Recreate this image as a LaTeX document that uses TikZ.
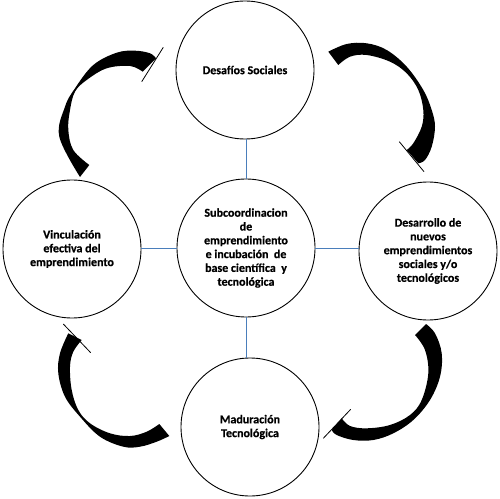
\documentclass[tikz,border=0pt]{standalone}
\usepackage{fontspec}
\setmainfont{Carlito}[BoldFeatures={FakeBold=0.6}]
\begin{document}
\begin{tikzpicture}[x=1bp,y=-1bp,
  bubble/.style={circle,draw=black,line width=0.9bp,minimum size=138bp,inner sep=0pt,
    align=center,font=\bfseries\fontsize{12bp}{13.8bp}\selectfont},
  conn/.style={draw={rgb,255:red,74;green,126;blue,187},line width=1bp},
  crescent/.style={fill=black},
  tick/.style={draw=black,line width=0.8bp}]
\useasboundingbox (0,0) rectangle (500,499);
\node[bubble] (top) at (245,70) {Desafíos Sociales};
\node[bubble] (left) at (72,249) {Vinculación\\efectiva del\\emprendimiento};
\node[bubble] (center) at (246,248) {Subcoordinacion\\de\\emprendimiento\\e incubación\ \ de\\base científica\ \ y\\tecnológica};
\node[bubble] (right) at (428,251) {Desarrollo de\\nuevos\\emprendimientos\\sociales y/o\\tecnológicos};
\node[bubble] (bottom) at (250,427) {Maduración\\Tecnológica};
\draw[conn] (center.north) -- (center.north |- top.south);
\draw[conn] (center.south) -- (center.south |- bottom.north);
\draw[conn] (center.west) -- (center.west -| left.east);
\draw[conn] (center.east) -- (center.east -| right.west);
% top-left curved arrow
\fill[crescent] plot[smooth,tension=0.6] coordinates {(80,177) (59.3,136.7) (65,106.7) (75,88.3) (93.3,65) (116.7,52.7) (135,50.7) (150,53.3) (156,58.3)}
  -- plot[smooth,tension=0.6] coordinates {(142.7,71.7) (130,66) (106.7,68.3) (86.7,80) (75,91.7) (70,110) (68.3,130) (73.3,150) (89.3,165)} -- cycle;
\draw[tick] (141.7,81.7) -- (163.3,47.3);
% top-right curved arrow
\fill[crescent] plot[smooth,tension=0.6] coordinates {(328.3,51.7) (346.7,44) (366.7,43.3) (386.7,50) (406.7,66.7) (423.3,90) (431.7,110) (435,126.7) (431.7,146.7) (425,160) (418.3,163.3)}
  -- plot[smooth,tension=0.6] coordinates {(406.7,150) (413.3,143.3) (421.7,126.7) (423.3,110) (418.3,90) (406.7,73.3) (390,61.7) (366.7,55) (350,56.7) (338.3,65)} -- cycle;
\draw[tick] (399.3,141.7) -- (424,171.7);
% bottom-left curved arrow
\fill[crescent] plot[smooth,tension=0.6] coordinates {(68.3,333.3) (60,353.3) (58.3,373.3) (65,396.7) (80,416.7) (100,436.7) (123.3,446.7) (140,446.7) (156.7,441.7) (169.3,436)}
  -- plot[smooth,tension=0.6] coordinates {(159.3,424) (146.7,431.7) (130,436) (110,433.3) (90,423.3) (78.3,410) (71.7,390) (70,366.7) (73.3,351.7) (81.7,340)} -- cycle;
\draw[tick] (63.3,324) -- (90.7,352.7);
% bottom-right curved arrow
\fill[crescent] plot[smooth,tension=0.6] coordinates {(426,324) (435,333.3) (441.7,353.3) (440,376.7) (430,400) (413.3,420) (393.3,433.3) (373.3,440) (353.3,440) (336.7,435) (331.7,430)}
  -- plot[smooth,tension=0.6] coordinates {(341.7,418.3) (350,426) (366.7,428.3) (390,425) (410,415) (421.7,400) (428.3,373.3) (425,350) (415,335)} -- cycle;
\draw[tick] (323.3,438.3) -- (350.7,409.3);
\end{tikzpicture}
\end{document}
